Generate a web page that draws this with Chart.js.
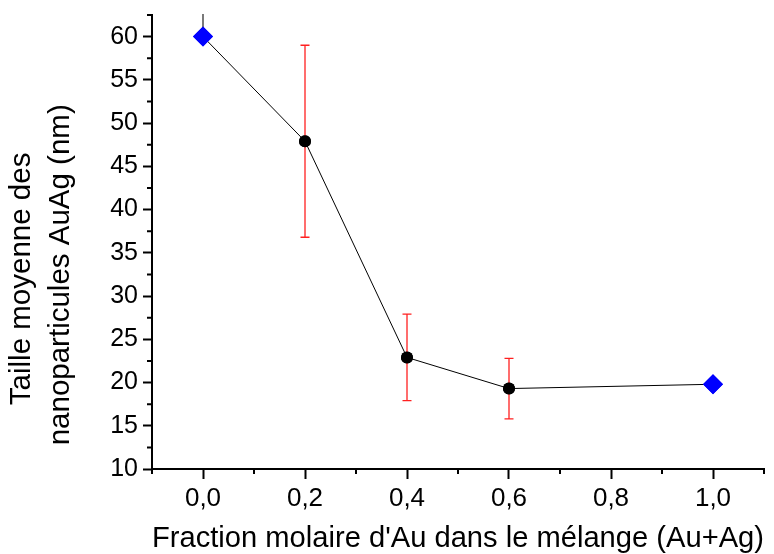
<!DOCTYPE html>
<html>
<head>
<meta charset="utf-8">
<script src="https://cdn.jsdelivr.net/npm/chart.js@4"></script>
<style>
  body { margin: 0; background: #fff; }
  #wrap { width: 774px; height: 554px; }
</style>
</head>
<body>
<div id="wrap"><canvas id="taille"></canvas></div>
<script>
// fraction molaire d'Au et taille moyenne mesurée
var fraction = [0.0, 0.2, 0.4, 0.6, 1.0];
var taille = [60.0, 47.9, 22.9, 19.3, 19.8];
// barres d'erreur (bas / haut), null = pas de barre
var errBas = [60.0, 36.8, 17.9, 15.8, null];
var errHaut = [64.0, 59.0, 27.9, 22.8, null];
var couleurErr = ['#333333', '#ff2020', '#ff2020', '#ff2020', null];

var ticksX = [0.0, 0.2, 0.4, 0.6, 0.8, 1.0];
var ticksXmin = [-0.1, 0.1, 0.3, 0.5, 0.7, 0.9, 1.1];
var ticksY = [10, 15, 20, 25, 30, 35, 40, 45, 50, 55, 60];
var ticksYmin = [12.5, 17.5, 22.5, 27.5, 32.5, 37.5, 42.5, 47.5, 52.5, 57.5, 62.5];

var police = 'Arial, "Liberation Sans", sans-serif';

// barres d'erreur + petites graduations
var errorBars = {
  id: 'errorBars',
  afterDatasetsDraw: function(chart) {
    var ctx = chart.ctx, sx = chart.scales.x, sy = chart.scales.y, a = chart.chartArea;
    ctx.save();
    ctx.beginPath();
    ctx.rect(a.left, a.top - 1, a.right - a.left, a.bottom - a.top + 2);
    ctx.clip();
    for (var i = 0; i < fraction.length; i++) {
      if (errHaut[i] === null) continue;
      var x = sx.getPixelForValue(fraction[i]);
      var y1 = sy.getPixelForValue(errBas[i]);
      var y2 = sy.getPixelForValue(errHaut[i]);
      ctx.strokeStyle = couleurErr[i];
      ctx.lineWidth = 1.3;
      ctx.beginPath();
      ctx.moveTo(x, y1); ctx.lineTo(x, y2);
      ctx.moveTo(x - 4.5, y1); ctx.lineTo(x + 4.5, y1);
      ctx.moveTo(x - 4.5, y2); ctx.lineTo(x + 4.5, y2);
      ctx.stroke();
    }
    ctx.restore();
    // redessiner les points au-dessus des barres
    chart.getDatasetMeta(0).data.forEach(function(p) { p.draw(ctx, a); });
  },
  afterDraw: function(chart) {
    var ctx = chart.ctx, sx = chart.scales.x, sy = chart.scales.y;
    ctx.save();
    ctx.strokeStyle = '#000';
    ctx.lineWidth = 2;
    ctx.beginPath();
    ticksXmin.forEach(function(v) {
      var x = sx.getPixelForValue(v);
      ctx.moveTo(x, sx.top); ctx.lineTo(x, sx.top + 5);
    });
    ticksYmin.forEach(function(v) {
      var y = sy.getPixelForValue(v);
      ctx.moveTo(sy.right, y); ctx.lineTo(sy.right - 5, y);
    });
    ctx.stroke();
    ctx.restore();
  }
};

var ctx = document.getElementById('taille').getContext('2d');
var chart = new Chart(ctx, {
  type: 'scatter',
  data: {
    datasets: [{
      data: fraction.map(function(f, i) { return { x: f, y: taille[i] }; }),
      showLine: true,
      borderColor: '#000',
      borderWidth: 1,
      pointStyle: ['rectRot', 'circle', 'circle', 'circle', 'rectRot'],
      pointRadius: [10, 6, 6, 6, 10],
      pointBackgroundColor: ['#0000ff', '#000', '#000', '#000', '#0000ff'],
      pointBorderColor: ['#0000ff', '#000', '#000', '#000', '#0000ff'],
      pointBorderWidth: 0,
      clip: false
    }]
  },
  options: {
    responsive: true,
    maintainAspectRatio: false,
    animation: false,
    layout: { padding: { left: 0, right: 3, top: 14, bottom: 0 } },
    plugins: { legend: { display: false }, tooltip: { enabled: false } },
    scales: {
      x: {
        type: 'linear',
        min: -0.1,
        max: 1.1,
        afterBuildTicks: function(s) { s.ticks = ticksX.map(function(v) { return { value: v }; }); },
        afterFit: function(s) { s.height = 85; },
        border: { display: true, color: '#000', width: 2 },
        grid: { drawOnChartArea: false, tickLength: 10, tickWidth: 2, tickColor: '#000' },
        ticks: {
          color: '#000',
          padding: 4,
          font: { family: police, size: 26 },
          callback: function(v) { return v.toFixed(1).replace('.', ','); }
        },
        title: {
          display: true,
          text: "Fraction molaire d'Au dans le mélange (Au+Ag)",
          color: '#000',
          font: { family: police, size: 29.7, lineHeight: 1.0 },
          padding: { top: 0, bottom: 0 }
        }
      },
      y: {
        min: 10,
        max: 62.5,
        afterBuildTicks: function(s) { s.ticks = ticksY.map(function(v) { return { value: v }; }); },
        afterFit: function(s) { s.width = 152; },
        border: { display: true, color: '#000', width: 2 },
        grid: { drawOnChartArea: false, tickLength: 9, tickWidth: 2, tickColor: '#000' },
        ticks: {
          color: '#000',
          padding: 5,
          font: { family: police, size: 25, lineHeight: 0.8 }
        },
        title: {
          display: true,
          // espaces finaux : décale le titre vers le bas comme dans l'original
          text: ['Taille moyenne des         ', 'nanoparticules AuAg (nm)        '],
          color: '#000',
          font: { family: police, size: 29.5, lineHeight: 1.3 },
          padding: { top: 3, bottom: 0 }
        }
      }
    }
  },
  plugins: [errorBars]
});
</script>
</body>
</html>
